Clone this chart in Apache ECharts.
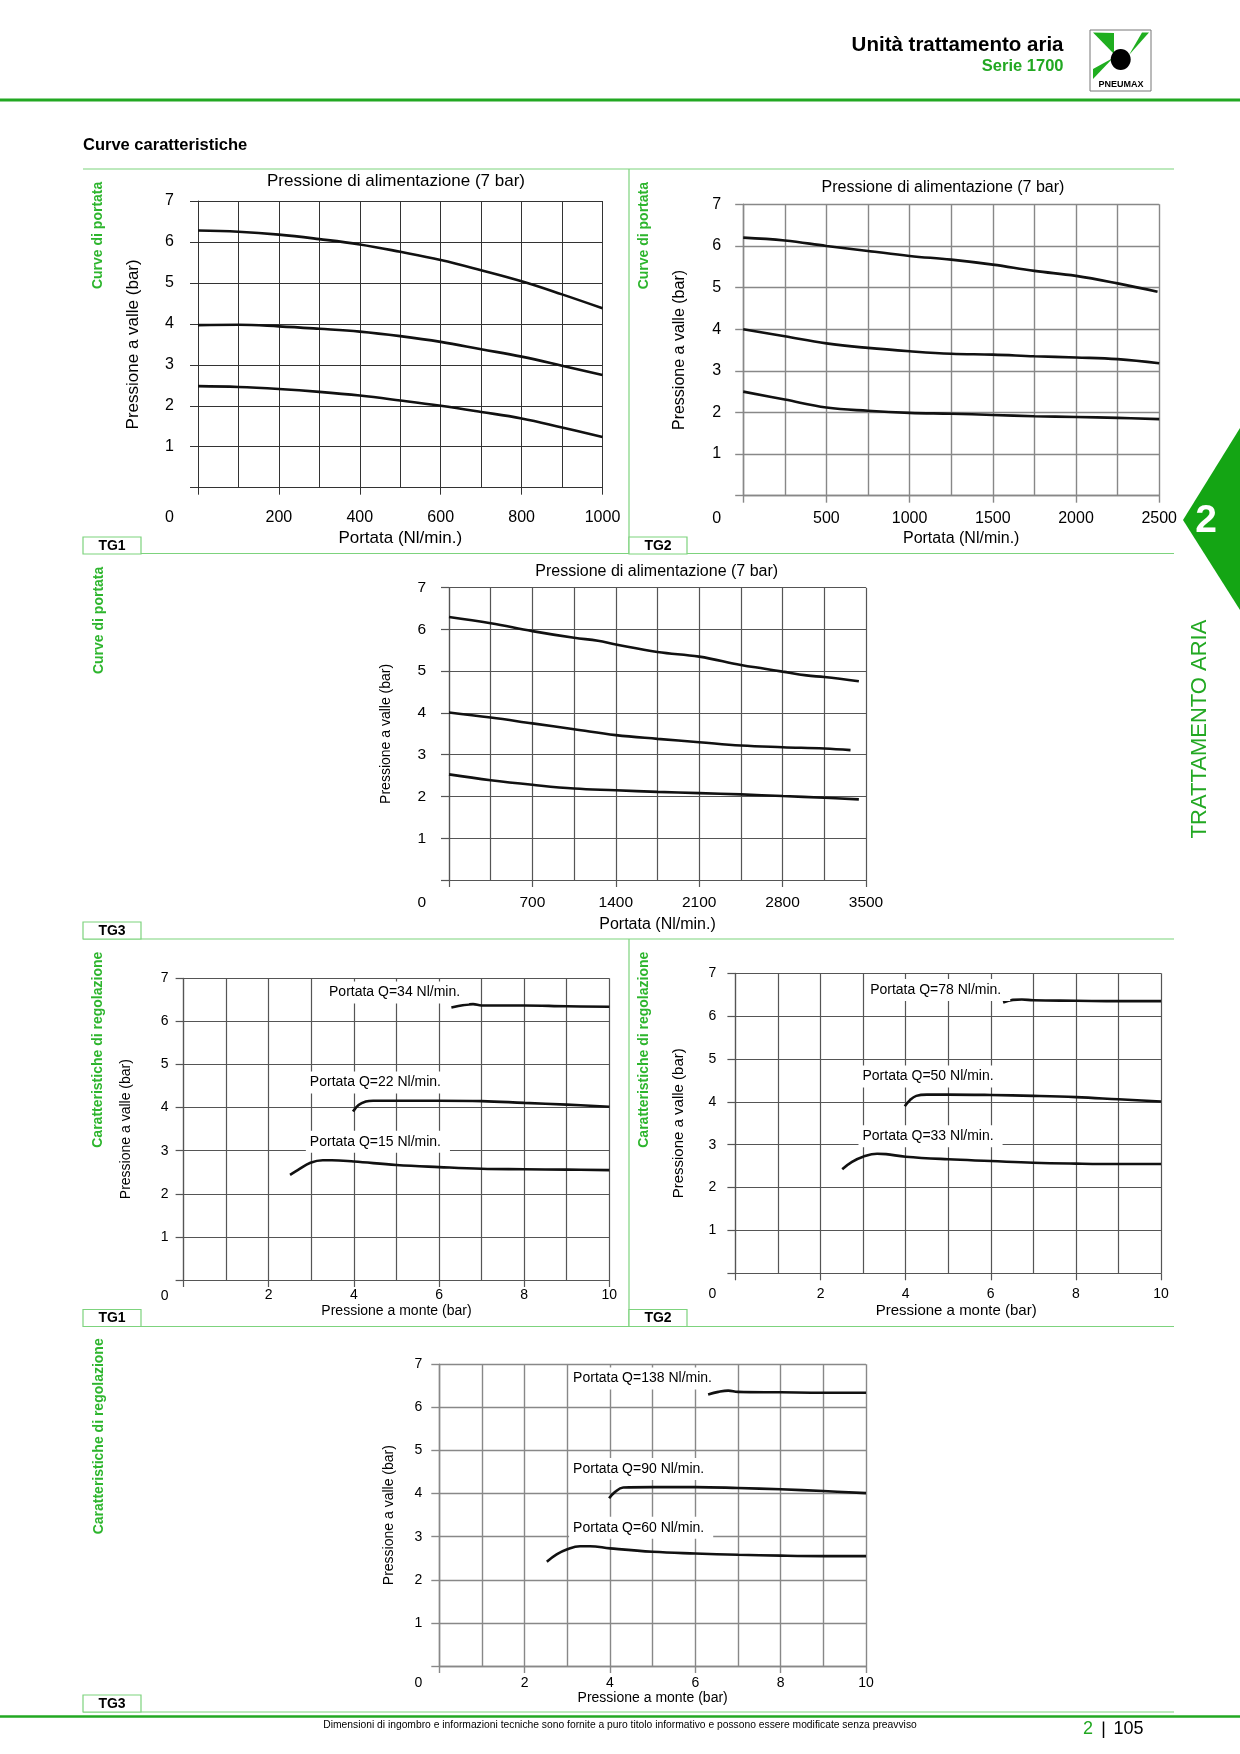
<!DOCTYPE html>
<html>
<head>
<meta charset="utf-8">
<title>Curve caratteristiche - Serie 1700</title>
<script src="https://cdn.jsdelivr.net/npm/echarts@6/dist/echarts.min.js"></script>
<style>
  html, body { margin: 0; padding: 0; background: #fff; }
  #chartDom { width: 1240px; height: 1754px; }
</style>
</head>
<body>
<div id="chartDom"></div>
<script>
// curve di portata: [portata Nl/min, pressione a valle bar]
const tg1High = [[0, 6.28], [100, 6.25], [200, 6.18], [300, 6.07], [400, 5.94], [500, 5.76], [600, 5.56], [700, 5.31], [800, 5.04], [900, 4.72], [1000, 4.38]];
const tg1Mid = [[0, 3.97], [100, 3.98], [200, 3.94], [300, 3.88], [400, 3.81], [500, 3.70], [600, 3.56], [700, 3.38], [800, 3.20], [900, 2.98], [1000, 2.75]];
const tg1Low = [[0, 2.48], [100, 2.46], [200, 2.41], [300, 2.34], [400, 2.25], [500, 2.13], [600, 2.00], [700, 1.85], [800, 1.69], [900, 1.47], [1000, 1.24]];

const tg2High = [[0, 6.2], [250, 6.13], [500, 6.0], [750, 5.88], [1000, 5.76], [1250, 5.67], [1500, 5.55], [1750, 5.40], [2000, 5.28], [2250, 5.10], [2490, 4.90]];
const tg2Mid = [[0, 4.0], [250, 3.83], [500, 3.66], [750, 3.55], [1000, 3.47], [1250, 3.41], [1500, 3.39], [1750, 3.35], [2000, 3.32], [2250, 3.28], [2500, 3.18]];
const tg2Low = [[0, 2.5], [250, 2.31], [500, 2.12], [750, 2.04], [1000, 1.99], [1250, 1.97], [1500, 1.94], [1750, 1.91], [2000, 1.89], [2250, 1.87], [2500, 1.84]];

const tg3High = [[0, 6.30], [350, 6.15], [700, 5.96], [1050, 5.80], [1250, 5.73], [1400, 5.64], [1750, 5.46], [2100, 5.35], [2450, 5.15], [2650, 5.06], [2800, 4.99], [3000, 4.90], [3150, 4.86], [3440, 4.76]];
const tg3Mid = [[0, 4.01], [350, 3.89], [700, 3.75], [1050, 3.61], [1400, 3.47], [1750, 3.38], [2100, 3.30], [2450, 3.22], [2800, 3.18], [3150, 3.15], [3370, 3.11]];
const tg3Low = [[0, 2.53], [350, 2.39], [700, 2.28], [1050, 2.19], [1400, 2.15], [1750, 2.11], [2100, 2.08], [2450, 2.05], [2800, 2.01], [3150, 1.97], [3440, 1.93]];

// caratteristiche di regolazione: [pressione a monte bar, pressione a valle bar]
const reg1Q34 = [[6.29, 6.32], [6.59, 6.38], [6.8, 6.40], [7, 6.37], [8, 6.37], [9, 6.35], [10, 6.34]];
const reg1Q22 = [[3.98, 3.91], [4.11, 4.06], [4.28, 4.14], [4.45, 4.16], [5, 4.16], [6, 4.16], [7, 4.15], [8, 4.11], [9, 4.07], [10, 4.02]];
const reg1Q15 = [[2.5, 2.44], [2.68, 2.55], [2.98, 2.72], [3.27, 2.78], [3.48, 2.78], [4, 2.75], [5, 2.67], [6, 2.62], [7, 2.58], [8, 2.57], [9, 2.56], [10, 2.55]];

const reg2Q78 = [[6.29, 6.32], [6.52, 6.38], [6.73, 6.39], [7, 6.37], [8, 6.36], [9, 6.35], [10, 6.35]];
const reg2Q50 = [[3.98, 3.90], [4.10, 4.04], [4.25, 4.14], [4.5, 4.17], [5, 4.17], [6, 4.16], [7, 4.14], [8, 4.11], [9, 4.06], [10, 4.01]];
const reg2Q33 = [[2.51, 2.43], [2.74, 2.60], [3, 2.72], [3.33, 2.79], [3.54, 2.78], [4, 2.72], [5, 2.66], [6, 2.62], [7, 2.58], [8, 2.56], [9, 2.55], [10, 2.55]];

const reg3Q138 = [[6.3, 6.3], [6.54, 6.36], [6.77, 6.39], [7, 6.36], [8, 6.35], [9, 6.34], [10, 6.34]];
const reg3Q90 = [[3.98, 3.89], [4.12, 4.04], [4.31, 4.14], [5, 4.15], [6, 4.15], [7, 4.13], [8, 4.10], [9, 4.06], [10, 4.01]];
const reg3Q60 = [[2.52, 2.42], [2.75, 2.59], [3, 2.71], [3.3, 2.78], [3.53, 2.78], [4, 2.73], [5, 2.65], [6, 2.61], [7, 2.58], [8, 2.56], [9, 2.55], [10, 2.55]];

// curve labels (text, anchor in data units)
const reg1Labels = [['Portata Q=34 Nl/min.', 3.31, 6.67], ['Portata Q=22 Nl/min.', 2.86, 4.58], ['Portata Q=15 Nl/min.', 2.86, 3.21]];
const reg2Labels = [['Portata Q=78 Nl/min.', 3.06, 6.61], ['Portata Q=50 Nl/min.', 2.88, 4.59], ['Portata Q=33 Nl/min.', 2.88, 3.20]];
const reg3Labels = [['Portata Q=138 Nl/min.', 3.03, 6.67], ['Portata Q=90 Nl/min.', 3.03, 4.57], ['Portata Q=60 Nl/min.', 3.03, 3.21]];

const FONT = '"Liberation Sans", Arial, Helvetica, sans-serif';
const GREEN = '#22a822';
const LIGHT = '#7dd37d';

// one entry per chart panel
const panels = [
  { left: 198, top: 201, width: 404.5, height: 286.7, xMax: 1000, xStep: 200, color: '#333', lw: 1,
    tick: 16, xNameSize: 17, yNameSize: 17, yMargin: 24, xMargin: 22, xNameGap: 42, yNameGap: 56, drop: 30, shift: 0,
    xName: 'Portata (Nl/min.)', curves: [tg1High, tg1Mid, tg1Low], labels: [] },
  { left: 743.2, top: 204.3, width: 416, height: 291.4, xMax: 2500, xStep: 500, color: '#888', lw: 1.4,
    tick: 16, xNameSize: 16, yNameSize: 16, yMargin: 22, xMargin: 15, xNameGap: 35, yNameGap: 56, drop: 23, shift: 10,
    xName: 'Portata (Nl/min.)', curves: [tg2High, tg2Mid, tg2Low], labels: [] },
  { left: 449, top: 587.7, width: 417, height: 292.3, xMax: 3500, xStep: 700, color: '#555', lw: 1.2,
    tick: 15.5, xNameSize: 16, yNameSize: 14, yMargin: 23, xMargin: 15, xNameGap: 37, yNameGap: 56, drop: 23, shift: 0,
    xName: 'Portata (Nl/min.)', curves: [tg3High, tg3Mid, tg3Low], labels: [] },
  { left: 183.6, top: 978.3, width: 425.7, height: 301.7, xMax: 10, xStep: 2, color: '#555', lw: 1.2,
    tick: 14, xNameSize: 14, yNameSize: 14, yMargin: 15, xMargin: 8, xNameGap: 24, yNameGap: 50, drop: 16, shift: 0,
    xName: 'Pressione a monte (bar)', curves: [reg1Q34, reg1Q22, reg1Q15], labels: reg1Labels },
  { left: 735.4, top: 973.3, width: 425.6, height: 300, xMax: 10, xStep: 2, color: '#555', lw: 1.2,
    tick: 14, xNameSize: 15, yNameSize: 15, yMargin: 19, xMargin: 14, xNameGap: 30, yNameGap: 49, drop: 21, shift: 8,
    xName: 'Pressione a monte (bar)', curves: [reg2Q78, reg2Q50, reg2Q33], labels: reg2Labels },
  { left: 439.3, top: 1364.3, width: 426.7, height: 301.7, xMax: 10, xStep: 2, color: '#888', lw: 1.4,
    tick: 14, xNameSize: 14, yNameSize: 14, yMargin: 17, xMargin: 10, xNameGap: 23, yNameGap: 43, drop: 17, shift: 0,
    xName: 'Pressione a monte (bar)', curves: [reg3Q138, reg3Q90, reg3Q60], labels: reg3Labels }
];

const grid = [];
const xAxis = [];
const yAxis = [];
const series = [];

panels.forEach((p, i) => {
  grid.push({ left: p.left, top: p.top, width: p.width, height: p.height, containLabel: false, outerBoundsMode: 'none' });
  const line = { show: true, lineStyle: { color: p.color, width: p.lw } };
  xAxis.push({
    gridIndex: i, type: 'value', min: 0, max: p.xMax, interval: p.xStep,
    axisLine: { show: true, onZero: false, lineStyle: { color: p.color, width: p.lw } },
    axisTick: { show: true, inside: false, length: 7, lineStyle: { color: p.color, width: p.lw } },
    axisLabel: { fontSize: p.tick, color: '#000', fontFamily: FONT, margin: p.xMargin, showMinLabel: true, showMaxLabel: true,
      formatter: v => (v === 0 ? '' : String(v)) },
    splitLine: line,
    minorTick: { show: false, splitNumber: 2 },
    minorSplitLine: line,
    name: p.xName, nameLocation: 'middle', nameGap: p.xNameGap,
    nameTextStyle: { fontSize: p.xNameSize, color: '#000', fontFamily: FONT, padding: [0, 0, 0, p.shift * 2] }
  });
  yAxis.push({
    gridIndex: i, type: 'value', min: 0, max: 7, interval: 1,
    axisLine: { show: true, onZero: false, lineStyle: { color: p.color, width: p.lw } },
    axisTick: { show: true, inside: false, length: 8, lineStyle: { color: p.color, width: p.lw } },
    axisLabel: { fontSize: p.tick, color: '#000', fontFamily: FONT, margin: p.yMargin, showMinLabel: true, showMaxLabel: true,
      formatter: v => (v === 0 ? '{z|0}' : String(v)),
      rich: { z: { fontSize: p.tick, color: '#000', fontFamily: FONT, padding: [p.drop * 2, 0, 0, 0] } } },
    splitLine: line,
    name: 'Pressione a valle (bar)', nameLocation: 'middle', nameGap: p.yNameGap, nameRotate: 90,
    nameTextStyle: { fontSize: p.yNameSize, color: '#000', fontFamily: FONT }
  });
  p.curves.forEach((data, k) => {
    const s = {
      type: 'line', xAxisIndex: i, yAxisIndex: i, data: data,
      smooth: 0.4, showSymbol: false, silent: true,
      lineStyle: { color: '#111', width: 2.6 }
    };
    const lab = p.labels[k];
    if (lab) {
      s.markPoint = {
        symbol: 'rect', symbolSize: 1, silent: true,
        itemStyle: { color: 'rgba(0,0,0,0)' },
        label: {
          show: true, position: 'right', distance: 0, formatter: '{b}',
          color: '#000', fontSize: 14, fontFamily: FONT,
          backgroundColor: '#fff', padding: [3, 9, 5, 4]
        },
        data: [{ name: lab[0], coord: [lab[1], lab[2]] }]
      };
    }
    series.push(s);
  });
});

// page decoration
function hline(y, x1, x2, color, w) {
  return { type: 'line', silent: true, shape: { x1: x1, y1: y, x2: x2, y2: y }, style: { stroke: color, lineWidth: w } };
}
function vline(x, y1, y2, color, w) {
  return { type: 'line', silent: true, shape: { x1: x, y1: y1, x2: x, y2: y2 }, style: { stroke: color, lineWidth: w } };
}
function txt(s, x, y, size, opts) {
  return Object.assign({
    type: 'text', x: x, y: y, silent: true,
    style: Object.assign({ text: s, fill: '#000', font: size + 'px ' + FONT, align: 'center', verticalAlign: 'middle' }, opts && opts.style)
  }, opts && opts.el);
}
function sideLabel(s, x, topY) {
  return txt(s, x, topY, 14, { el: { rotation: Math.PI / 2 }, style: { font: 'bold 14px ' + FONT, fill: '#2db52d', align: 'right' } });
}
function tgBox(s, x, y) {
  return [
    { type: 'rect', silent: true, shape: { x: x, y: y, width: 58, height: 17 }, style: { fill: '#fff', stroke: LIGHT, lineWidth: 1.2 } },
    txt(s, x + 29, y + 9, 14, { style: { font: 'bold 14px ' + FONT } })
  ];
}

const graphic = [
  // header
  hline(100, 0, 1240, GREEN, 3),
  txt('Unità trattamento aria', 1063.5, 45, 20.5, { style: { font: 'bold 20.5px ' + FONT, align: 'right' } }),
  txt('Serie 1700', 1063.5, 66.5, 16.5, { style: { font: 'bold 16.5px ' + FONT, align: 'right', fill: GREEN } }),
  { type: 'rect', silent: true, shape: { x: 1090, y: 30, width: 61, height: 61 }, style: { fill: '#fff', stroke: '#777', lineWidth: 1 } },
  { type: 'polygon', silent: true, shape: { points: [[1093, 32.5], [1114, 33], [1114, 54]] }, style: { fill: '#1fae1f' } },
  { type: 'polygon', silent: true, shape: { points: [[1142, 32.5], [1149, 32.5], [1129, 55]] }, style: { fill: '#1fae1f' } },
  { type: 'polygon', silent: true, shape: { points: [[1093, 79], [1093, 69], [1113, 58]] }, style: { fill: '#1fae1f' } },
  { type: 'ellipse', silent: true, shape: { cx: 1120.7, cy: 59.5, rx: 10, ry: 10.5 }, style: { fill: '#000' } },
  txt('PNEUMAX', 1121, 85, 9, { style: { font: 'bold 9px ' + FONT } }),
  txt('Curve caratteristiche', 83, 145.5, 16.5, { style: { font: 'bold 16.5px ' + FONT, align: 'left' } }),

  // section frames
  hline(169, 83, 1174, LIGHT, 1.2),
  hline(553.5, 83, 1174, LIGHT, 1.2),
  hline(939, 83, 1174, LIGHT, 1.2),
  hline(1326.5, 83, 1174, LIGHT, 1.2),
  hline(1712, 83, 1174, LIGHT, 1.2),
  vline(629, 169, 553.5, LIGHT, 1.2),
  vline(629, 939, 1326.5, LIGHT, 1.2),
  ...tgBox('TG1', 83, 537),
  ...tgBox('TG2', 629, 537),
  ...tgBox('TG3', 83, 922),
  ...tgBox('TG1', 83, 1309.5),
  ...tgBox('TG2', 629, 1309.5),
  ...tgBox('TG3', 83, 1695),

  sideLabel('Curve di portata', 98.6, 181.7),
  sideLabel('Curve di portata', 644, 182),
  sideLabel('Curve di portata', 99, 566.7),
  sideLabel('Caratteristiche di regolazione', 98.6, 951.7),
  sideLabel('Caratteristiche di regolazione', 644.3, 951.7),
  sideLabel('Caratteristiche di regolazione', 99.5, 1338.3),

  // chart titles
  txt('Pressione di alimentazione (7 bar)', 396, 181.7, 17),
  txt('Pressione di alimentazione (7 bar)', 943, 187.7, 16),
  txt('Pressione di alimentazione (7 bar)', 656.7, 571.7, 16),

  // right tab
  { type: 'polygon', silent: true, shape: { points: [[1240, 428], [1183, 520], [1240, 610]] }, style: { fill: '#14a514' } },
  txt('2', 1206, 521, 39, { style: { font: 'bold 39px ' + FONT, fill: '#fff' } }),
  txt('TRATTAMENTO ARIA', 1200, 729, 22, { el: { rotation: Math.PI / 2 }, style: { font: '22px ' + FONT, fill: GREEN } }),

  // footer
  hline(1716.5, 0, 1240, GREEN, 2.5),
  txt('Dimensioni di ingombro e informazioni tecniche sono fornite a puro titolo informativo e possono essere modificate senza preavviso', 620, 1725.5, 10.3, { style: { font: '10.3px ' + FONT } }),
  txt('2', 1088, 1729, 18, { style: { fill: GREEN, font: '18px ' + FONT } }),
  vline(1103.5, 1721.5, 1738, '#000', 1.5),
  txt('105', 1128.5, 1729, 18, { style: { font: '18px ' + FONT } })
];

const option = {
  animation: false,
  backgroundColor: '#fff',
  textStyle: { fontFamily: FONT },
  grid: grid,
  xAxis: xAxis,
  yAxis: yAxis,
  series: series,
  graphic: graphic
};

const myChart = echarts.init(document.getElementById('chartDom'), null, { renderer: 'canvas' });
myChart.setOption(option);
</script>
</body>
</html>
